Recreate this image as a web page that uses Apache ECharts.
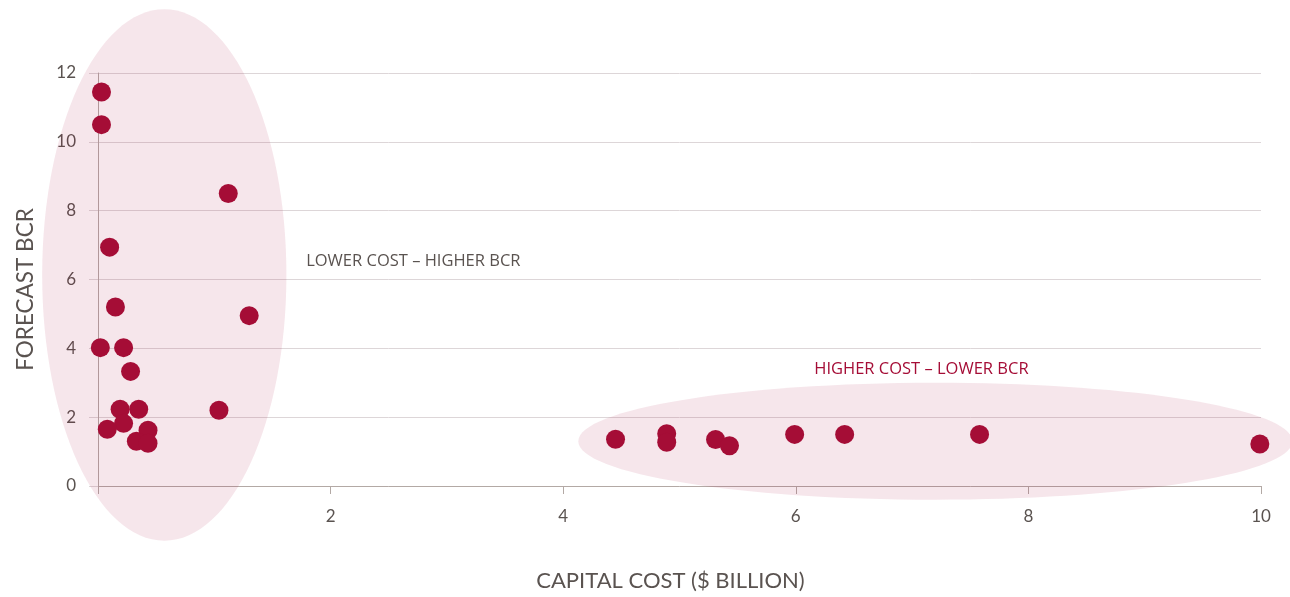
<!DOCTYPE html>
<html><head><meta charset="utf-8">
<script src="https://cdn.jsdelivr.net/npm/echarts@6/dist/echarts.min.js"></script>
<style>html,body{margin:0;padding:0;background:#fff}#c{width:1290px;height:597px}</style>
</head><body><div id="c"></div>
<script>
// Capital cost ($ billion) and forecast BCR for each project
const costs = [0.03,0.03,1.12,0.10,0.15,1.30,0.02,0.22,0.28,0.19,0.35,1.04,0.22,0.08,0.43,0.33,0.43,
               4.45,4.89,4.89,5.31,5.43,5.99,6.42,7.58,9.99];
const bcrs  = [11.45,10.5,8.5,6.94,5.2,4.95,4.02,4.02,3.33,2.23,2.23,2.2,1.82,1.65,1.62,1.3,1.24,
               1.36,1.52,1.27,1.35,1.17,1.5,1.5,1.5,1.22];
const xTicks = [0,2,4,6,8,10];
const yTicks = [0,2,4,6,8,10,12];
// highlight zones: [centerCost, centerBCR, halfWidth, halfHeight]
const zones = [[0.57,6.13,1.05,7.72],[7.2,1.30,3.07,1.70]];
// zone labels: [cost, bcr, text, align]
const zoneLabels = [[1.79,6.52,'LOWER COST – HIGHER BCR','left'],[7.08,3.40,'HIGHER COST – LOWER BCR','center']];

const font = 'Lato, "Noto Sans", sans-serif';
const chart = echarts.init(document.getElementById('c'));
chart.setOption({
  animation:false,
  grid:{left:98,right:29,top:73,bottom:109},
  xAxis:{type:'value',min:xTicks[0],max:xTicks[xTicks.length-1],interval:2,
    name:'CAPITAL COST ($ BILLION)',nameLocation:'middle',nameGap:84,
    nameTextStyle:{fontFamily:font,fontSize:22,color:'#5a5350',padding:[0,18,0,0]},
    axisLine:{show:true,lineStyle:{color:'#b3a9a5',width:1}},
    axisTick:{show:true,length:8,lineStyle:{color:'#b3a9a5'}},
    axisLabel:{margin:22,fontFamily:font,fontSize:17,color:'#5a5350',
      formatter:v=>v===0?'':String(v)},
    splitLine:{show:false}},
  yAxis:{type:'value',min:yTicks[0],max:yTicks[yTicks.length-1],interval:2,
    name:'FORECAST BCR',nameLocation:'middle',nameGap:61,
    nameTextStyle:{fontFamily:font,fontSize:22.5,color:'#5a5350',padding:[0,20,0,0]},
    axisLine:{show:true,lineStyle:{color:'#b3a9a5',width:1}},
    axisTick:{show:true,length:9,lineStyle:{color:'#ddd6d8'}},
    axisLabel:{margin:22,fontFamily:font,fontSize:17,color:'#5a5350',padding:[5,0,0,0]},
    splitLine:{show:true,lineStyle:{color:'#ddd6d8',width:1}}},
  series:[
    {type:'custom',z:1,silent:true,clip:false,data:zones,
     renderItem:(params,api)=>{
       const c=api.coord([api.value(0),api.value(1)]);
       const s=api.size([api.value(2),api.value(3)]);
       return {type:'ellipse',shape:{cx:c[0],cy:c[1],rx:s[0],ry:s[1]},
         style:{fill:'rgba(165,13,54,0.1)'}};
     }},
    {type:'custom',z:3,silent:true,clip:false,data:zoneLabels.map(d=>[d[0],d[1]]),
     renderItem:(params,api)=>{
       const d=zoneLabels[params.dataIndex];
       const c=api.coord([api.value(0),api.value(1)]);
       return {type:'text',x:c[0],y:c[1],
         style:{text:d[2],textAlign:d[3],textVerticalAlign:'middle',
           font:'16.5px "Open Sans", sans-serif',
           fill:d[3]==='left'?'#5a5350':'#a50d36'}};
     }},
    {type:'scatter',z:2,symbolSize:19,data:costs.map((c,i)=>[c,bcrs[i]]),
     itemStyle:{color:'#a50d36',opacity:1}}
  ]
});
</script></body></html>
